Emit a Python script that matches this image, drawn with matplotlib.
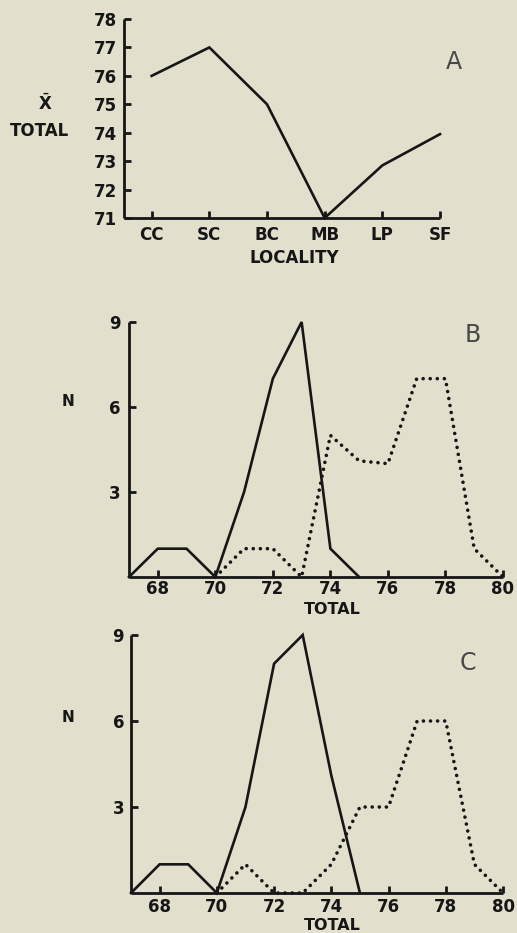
import matplotlib
matplotlib.use("Agg")
import matplotlib.pyplot as plt

# ---------------- data ----------------
localities = ["CC", "SC", "BC", "MB", "LP", "SF"]
mean_total = [76, 77, 75, 71, 72.85, 73.95]
a_yticks = [71, 72, 73, 74, 75, 76, 77, 78]

total_x = [67, 68, 69, 70, 71, 72, 73, 74, 75]
b_solid = [0, 1, 1, 0, 3, 7, 9, 1, 0]
c_solid = [0, 1, 1, 0, 3, 8, 9, 4.1, 0]

dot_x = [70, 71, 72, 73, 74, 75, 76, 77, 78, 79, 80]
b_dotted = [0, 1, 1, 0, 5, 4.1, 4, 7, 7, 1, 0]
c_dotted = [0, 1, 0, 0, 1, 3, 3, 6, 6, 1, 0]

n_ticks = [3, 6, 9]
total_ticks = [68, 70, 72, 74, 76, 78, 80]

# ---------------- style ----------------
W, H = 517, 933
BG = "#e3dfcd"
INK = "#161616"
FONT = "DejaVu Sans"
fs = 12

fig = plt.figure(figsize=(W / 100, H / 100), dpi=100, facecolor=BG)


def ax_px(l, r, b, t):
    return fig.add_axes([l / W, 1 - b / H, (r - l) / W, (b - t) / H])


def style(ax, xpad, ypad):
    ax.set_facecolor(BG)
    for s in ("top", "right"):
        ax.spines[s].set_visible(False)
    for s in ("left", "bottom"):
        ax.spines[s].set_linewidth(2.0)
        ax.spines[s].set_color(INK)
        ax.spines[s].set_capstyle("butt")
    ax.tick_params(axis="both", direction="in", length=5, width=2, colors=INK,
                   labelsize=fs)
    ax.tick_params(axis="x", pad=xpad)
    ax.tick_params(axis="y", pad=ypad)
    for lab in ax.get_xticklabels() + ax.get_yticklabels():
        lab.set_fontweight("bold")
        lab.set_family(FONT)


def letter_text(x, y, s):
    fig.text(x / W, 1 - y / H, s, ha="center", va="center", fontsize=17,
             fontweight="normal", family="DejaVu Sans", color="#484848")


# ---------------- Panel A ----------------
axA = ax_px(124, 440, 218, 19)
axA.plot(range(len(localities)), mean_total, color=INK, lw=1.9,
         solid_joinstyle="miter", clip_on=False)
axA.set_xlim(-0.48, len(localities) - 1)
axA.set_ylim(71, 78)
axA.set_xticks(range(len(localities)))
axA.set_xticklabels(localities)
axA.set_yticks(a_yticks)
style(axA, 6, 5)

fig.text(45 / W, 1 - 104 / H, r"$\bar{\mathbf{X}}$", ha="center", va="center",
         fontsize=fs, color=INK)
fig.text(40 / W, 1 - 131 / H, "TOTAL", ha="center", va="center",
         fontsize=fs, fontweight="bold", family=FONT, color=INK)
fig.text(294 / W, 1 - 258 / H, "LOCALITY", ha="center", va="center",
         fontsize=fs, fontweight="bold", family=FONT, color=INK)
letter_text(454, 62, "A")


# ---------------- Panels B and C ----------------
def dist_panel(l, r, b, t, solid, dotted, letter, letter_xy, n_y, total_y, xpad, ypad):
    ax = ax_px(l, r, b, t)
    ax.plot(total_x, solid, color=INK, lw=1.9, solid_joinstyle="miter",
            clip_on=False, zorder=3)
    ax.plot(dot_x, dotted, color=INK, lw=2.6, linestyle=(0, (0.01, 1.95)),
            dash_capstyle="round", clip_on=False, zorder=3)
    ax.set_xlim(67, 80)
    ax.set_ylim(0, 9)
    ax.set_xticks(total_ticks)
    ax.set_yticks(n_ticks)
    style(ax, xpad, ypad)
    fig.text(68 / W, 1 - n_y / H, "N", ha="center", va="center",
             fontsize=fs - 1, fontweight="bold", family=FONT, color=INK)
    fig.text(332 / W, 1 - total_y / H, "TOTAL", ha="center", va="center",
             fontsize=fs - 0.5, fontweight="bold", family=FONT, color=INK)
    letter_text(letter_xy[0], letter_xy[1], letter)
    return ax


dist_panel(129, 503, 577, 322, b_solid, b_dotted, "B", (473, 335), 402, 609, 2, 6)
dist_panel(131, 503, 893, 635, c_solid, c_dotted, "C", (468, 663), 718, 925, 3.5, 5)

fig.savefig("out.png", dpi=100, facecolor=BG)
